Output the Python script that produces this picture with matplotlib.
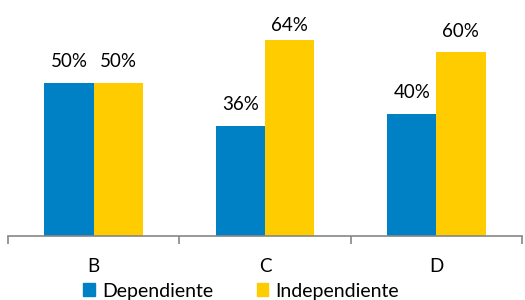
import matplotlib
matplotlib.use("Agg")
import matplotlib.pyplot as plt
import numpy as np
from matplotlib.patches import Patch

categories = ["B", "C", "D"]
dependiente = [50, 36, 40]
independiente = [50, 64, 60]
series_names = ["Dependiente", "Independiente"]
colors = ["#0081C6", "#FFCC00"]

plt.rcParams['font.family'] = ['Lato', 'DejaVu Sans']

fig = plt.figure(figsize=(5.25, 3.0), dpi=100)
ax_h_px = 236
ax = fig.add_axes([8/525, (300-236)/300, 514/525, ax_h_px/300])

x = np.arange(len(categories))
w = 0.287
ymax = 236/3.06
b1 = ax.bar(x - w/2, dependiente, w, color=colors[0], label=series_names[0])
b2 = ax.bar(x + w/2, independiente, w, color=colors[1], label=series_names[1])

gap = 15.5 / ax_h_px
top_limit = (ax_h_px - 31) / ax_h_px
for bars, vals in ((b1, dependiente), (b2, independiente)):
    for r, v in zip(bars, vals):
        yfrac = min(v / ymax + gap, top_limit)
        xa = (r.get_x() + r.get_width()/2 + 0.5) / 3.0
        ax.text(xa, yfrac, f"{v}%", transform=ax.transAxes, ha="center",
                va="baseline", fontsize=13.5, color="#000000")

ax.set_xlim(-0.5, 2.5)
ax.set_ylim(0, ymax)
ax.set_yticks([])
for s in ("left", "right", "top"):
    ax.spines[s].set_visible(False)
ax.spines["bottom"].set_color("#868686")
ax.spines["bottom"].set_linewidth(1.2)
ax.set_xticks([-0.5, 0.5, 1.5, 2.5], minor=False)
ax.set_xticklabels([])
ax.tick_params(axis="x", which="major", length=6, width=1.2, color="#868686", direction="out")
ax.set_xticks(x, minor=True)
ax.set_xticklabels(categories, minor=True)
ax.tick_params(axis="x", which="minor", length=0, pad=16, labelsize=13.5)

handles = [Patch(color=colors[0], label=series_names[0]),
           Patch(color=colors[1], label=series_names[1])]
fig.legend(handles=handles, loc="center", bbox_to_anchor=(241/525, 1 - 291/300),
           ncol=2, frameon=False, fontsize=14, handlelength=0.6, handleheight=0.6,
           handletextpad=0.35, columnspacing=2.24, borderaxespad=0, borderpad=0)

fig.savefig("out.png", dpi=100)
